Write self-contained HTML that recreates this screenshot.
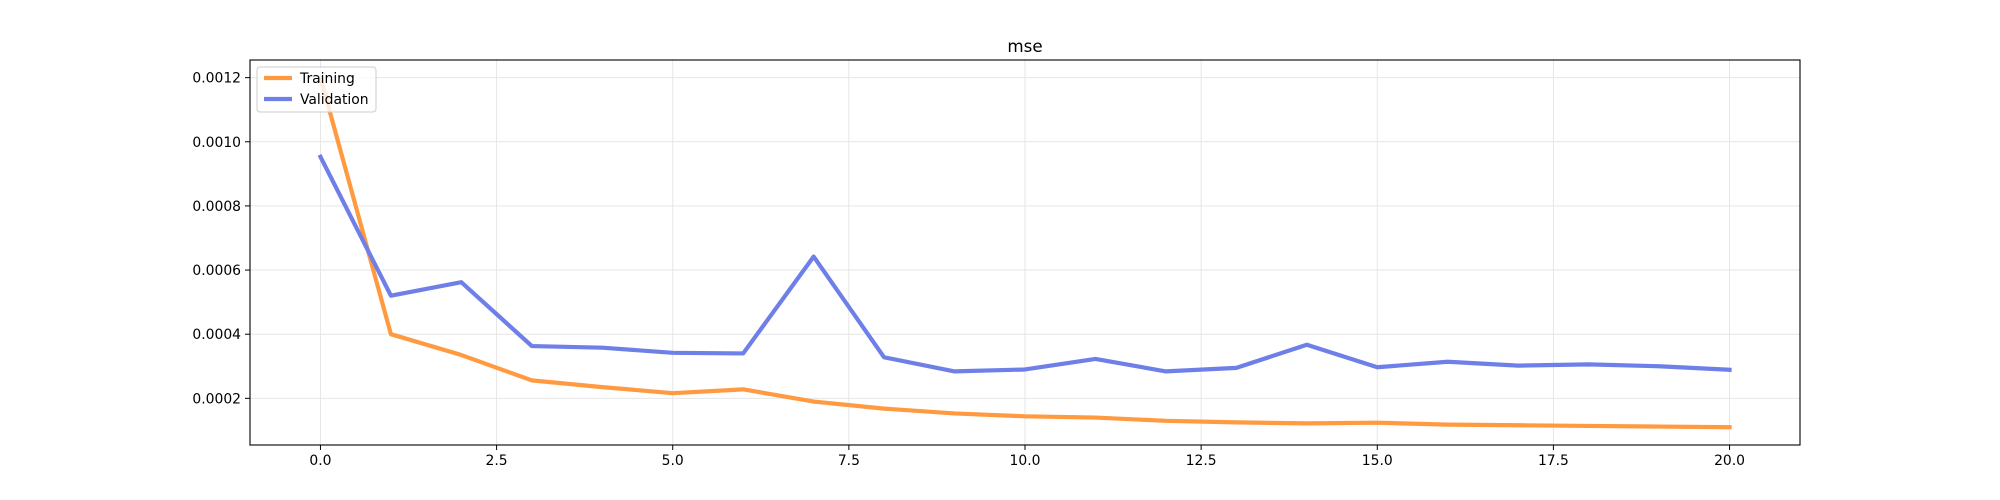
<!DOCTYPE html>
<html><head><meta charset="utf-8"><style>
body{margin:0;background:#fff;}
svg{display:block;font-family:"DejaVu Sans","Liberation Sans",sans-serif;}
</style></head><body>
<svg id="chart" width="2000" height="500">
<rect width="2000" height="500" fill="#fff"/>
<text x="1025" y="52" font-size="16.7" text-anchor="middle">mse</text>
<g id="grid"></g><g id="ticks"></g><g id="lines"></g>
<rect x="250" y="60" width="1550" height="385" fill="none" stroke="#000" stroke-width="1.1"/>
<g>
<rect x="257" y="67" width="119" height="45" rx="3" fill="#fff" fill-opacity="0.8" stroke="#ccc" stroke-width="1"/>
<line x1="264" y1="78" x2="292" y2="78" stroke="#ff9a40" stroke-width="4.2"/>
<text x="300" y="83" font-size="13.9">Training</text>
<line x1="264" y1="99" x2="292" y2="99" stroke="#6f7fe8" stroke-width="4.2"/>
<text x="300" y="104" font-size="13.9">Validation</text>
</g>
</svg>
<script>
const epochs=[0,1,2,3,4,5,6,7,8,9,10,11,12,13,14,15,16,17,18,19,20];
const training=[0.0012,0.0004,0.000335,0.000256,0.000235,0.000216,0.000228,0.00019,0.000168,0.000153,0.000144,0.00014,0.00013,0.000125,0.000122,0.000124,0.000118,0.000116,0.000114,0.000112,0.00011];
const validation=[0.000953,0.00052,0.000562,0.000363,0.000358,0.000342,0.00034,0.000642,0.000328,0.000284,0.00029,0.000323,0.000284,0.000295,0.000367,0.000297,0.000314,0.000302,0.000306,0.0003,0.000289];
const xTicks=[0,2.5,5,7.5,10,12.5,15,17.5,20];
const xTickLabels=["0.0","2.5","5.0","7.5","10.0","12.5","15.0","17.5","20.0"];
const yTicks=[0.0002,0.0004,0.0006,0.0008,0.0010,0.0012];
const yTickLabels=["0.0002","0.0004","0.0006","0.0008","0.0010","0.0012"];
const NS="http://www.w3.org/2000/svg";
const L=250,R=1800,T=60,B=445;
const xmin=-1,xmax=21,ymin=0.0000545,ymax=0.001255;
const sx=v=>L+(v-xmin)/(xmax-xmin)*(R-L);
const sy=v=>B-(v-ymin)/(ymax-ymin)*(B-T);
function mk(tag,attrs,parent){const e=document.createElementNS(NS,tag);for(const k in attrs)e.setAttribute(k,attrs[k]);parent.appendChild(e);return e;}
const grid=document.getElementById('grid'),ticks=document.getElementById('ticks'),lines=document.getElementById('lines');
xTicks.forEach((t,i)=>{const x=sx(t);
 const g=mk('line',{x1:x,x2:x,y1:T,y2:B,stroke:'#e6e6e6','stroke-width':1},grid);
 
 
 mk('line',{x1:x,x2:x,y1:B,y2:B+5,stroke:'#000','stroke-width':1},ticks);
 const tx=mk('text',{x:x,y:B+20,'font-size':13.9,'text-anchor':'middle'},ticks);tx.textContent=xTickLabels[i];
 
 });
yTicks.forEach((t,i)=>{const y=sy(t);
 const g=mk('line',{x1:L,x2:R,y1:y,y2:y,stroke:'#e6e6e6','stroke-width':1},grid);
 
 
 mk('line',{x1:L-5,x2:L,y1:y,y2:y,stroke:'#000','stroke-width':1},ticks);
 const tx=mk('text',{x:L-9,y:y+5,'font-size':13.9,'text-anchor':'end'},ticks);tx.textContent=yTickLabels[i];
 
 });
function series(vals,color,name){
 const p=mk('polyline',{points:vals.map((v,i)=>sx(epochs[i])+','+sy(v)).join(' '),fill:'none',stroke:color,'stroke-width':4.2,'stroke-linejoin':'round','stroke-linecap':'square'},lines);
 
 }
series(training,'#ff9a40','training-line');
series(validation,'#6f7fe8','validation-line');
</script>
</body></html>
